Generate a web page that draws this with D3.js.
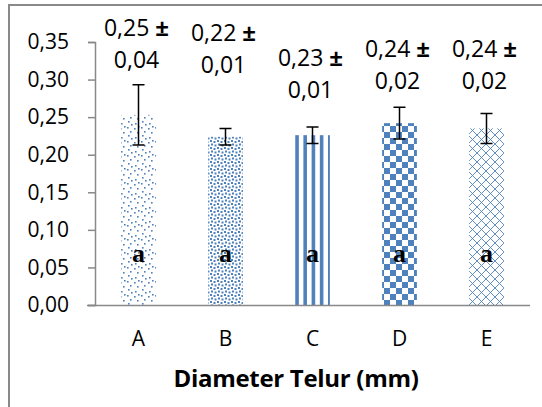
<!DOCTYPE html>
<html>
<head>
<meta charset="utf-8">
<script src="https://cdn.jsdelivr.net/npm/d3@7/dist/d3.min.js"></script>
<style>
  body { margin: 0; background: #fff; }
  svg { display: block; }
</style>
</head>
<body>
<svg id="chart" width="542" height="407"></svg>
<script>
// data
const categories = ['A', 'B', 'C', 'D', 'E'];
const means = [0.253, 0.224, 0.226, 0.242, 0.235];
const errors = [0.040, 0.011, 0.011, 0.021, 0.020];
const labelTop = ['0,25', '0,22', '0,23', '0,24', '0,24'];
const labelBottom = ['0,04', '0,01', '0,01', '0,02', '0,02'];
const letters = ['a', 'a', 'a', 'a', 'a'];
const yTicks = [0, 0.05, 0.10, 0.15, 0.20, 0.25, 0.30, 0.35];

// layout (labels were hand placed in the original)
const labelY = [28, 33, 58, 49, 49];
const blue = '#4f81bd';
const grey = '#898989';
const font = '"Open Sans", "Noto Sans", sans-serif';

const svg = d3.select('#chart');

const x = d3.scaleBand()
    .domain(categories)
    .range([95, 530])
    .paddingInner(0.6)
    .paddingOuter(0.3);

const y = d3.scaleLinear()
    .domain([0, 0.35])
    .range([305, 42]);

const fmt = d3.formatLocale({decimal: ',', thousands: '.', grouping: [3], currency: ['', '']}).format('.2f');

// frame of the chart area (runs off the picture on right/bottom)
svg.append('path')
    .attr('d', 'M9,420 L9,5 L560,5')
    .attr('fill', 'none')
    .attr('stroke', grey)
    .attr('stroke-width', 2);

// fill patterns
const defs = svg.append('defs');

// A: sparse dots
let p = defs.append('pattern').attr('id', 'pA')
    .attr('patternUnits', 'userSpaceOnUse').attr('width', 14).attr('height', 14);
p.append('rect').attr('width', 14).attr('height', 14).attr('fill', '#fff');
[[1,1],[8,2],[4,5],[11,6],[2,9],[9,11],[5,12],[12,0]].forEach(d => {
    p.append('rect').attr('x', d[0]).attr('y', d[1]).attr('width', 1.6).attr('height', 1.6).attr('fill', blue);
});

// B: dense dots
p = defs.append('pattern').attr('id', 'pB')
    .attr('patternUnits', 'userSpaceOnUse').attr('width', 7).attr('height', 7);
p.append('rect').attr('width', 7).attr('height', 7).attr('fill', '#fff');
[[0,0],[3.5,1],[1,3.5],[4.5,4.5]].forEach(d => {
    p.append('rect').attr('x', d[0]).attr('y', d[1]).attr('width', 2).attr('height', 2).attr('fill', blue);
});

// C: vertical stripes
p = defs.append('pattern').attr('id', 'pC')
    .attr('patternUnits', 'userSpaceOnUse').attr('width', 8.2).attr('height', 8);
p.append('rect').attr('width', 8.2).attr('height', 8).attr('fill', '#fff');
p.append('rect').attr('x', 0).attr('width', 3.6).attr('height', 8).attr('fill', blue);

// D: checker board
p = defs.append('pattern').attr('id', 'pD')
    .attr('patternUnits', 'userSpaceOnUse').attr('width', 12).attr('height', 12);
p.append('rect').attr('width', 12).attr('height', 12).attr('fill', '#fff');
p.append('rect').attr('x', 0).attr('y', 0).attr('width', 6).attr('height', 6).attr('fill', blue);
p.append('rect').attr('x', 6).attr('y', 6).attr('width', 6).attr('height', 6).attr('fill', blue);

// E: diamond trellis
p = defs.append('pattern').attr('id', 'pE')
    .attr('patternUnits', 'userSpaceOnUse').attr('width', 9).attr('height', 9);
p.append('rect').attr('width', 9).attr('height', 9).attr('fill', '#fff');
p.append('path').attr('d', 'M0,0 L9,9 M9,0 L0,9')
    .attr('stroke', blue).attr('stroke-width', 0.9).attr('fill', 'none');

const patternIds = ['pA', 'pB', 'pC', 'pD', 'pE'];

// bars
svg.append('g').selectAll('rect')
    .data(categories)
    .join('rect')
    .attr('x', d => x(d))
    .attr('y', (d, i) => y(means[i]))
    .attr('width', x.bandwidth())
    .attr('height', (d, i) => y(0) - y(means[i]))
    .attr('fill', (d, i) => `url(#${patternIds[i]})`);

// y axis
const yAxis = svg.append('g')
    .attr('transform', 'translate(95,0)')
    .call(d3.axisLeft(y).tickValues(yTicks).tickFormat(fmt).tickSize(7).tickPadding(19));
yAxis.select('.domain').attr('stroke', grey).attr('stroke-width', 1.5);
yAxis.selectAll('.tick line').attr('stroke', grey).attr('stroke-width', 1.5);
yAxis.selectAll('.tick text')
    .attr('fill', '#000')
    .style('font-family', font)
    .style('font-size', '21px');

// x axis
const xAxis = svg.append('g')
    .attr('transform', `translate(0,${y(0)})`)
    .call(d3.axisBottom(x).tickSize(0).tickPadding(26));
xAxis.select('.domain').attr('d', 'M87,0.5 H530').attr('stroke', grey).attr('stroke-width', 1.5);
xAxis.selectAll('.tick text')
    .attr('fill', '#000')
    .style('font-family', font)
    .style('font-size', '21px');

// axis title
svg.append('text')
    .attr('x', 296)
    .attr('y', 387)
    .attr('text-anchor', 'middle')
    .style('font-family', font)
    .style('font-weight', 'bold')
    .style('font-size', '24px')
    .style('letter-spacing', '-0.3px')
    .text('Diameter Telur (mm)');

// error bars
const eb = svg.append('g').attr('stroke', '#000').attr('stroke-width', 1.5).attr('fill', 'none');
categories.forEach((c, i) => {
    const cx = x(c) + x.bandwidth() / 2;
    const hi = y(means[i] + errors[i]);
    const lo = y(means[i] - errors[i]);
    eb.append('path')
        .attr('d', `M${cx},${hi} V${lo} M${cx - 6},${hi} H${cx + 6} M${cx - 6},${lo} H${cx + 6}`);
});

// value labels
const labels = svg.append('g')
    .attr('text-anchor', 'middle')
    .style('font-family', font)
    .style('font-size', '23px');
categories.forEach((c, i) => {
    const cx = x(c) + x.bandwidth() / 2 - 2;
    const t = labels.append('text').attr('x', cx).attr('y', labelY[i]).attr('dy', '0.35em');
    t.append('tspan').text(labelTop[i] + ' ');
    t.append('tspan').style('font-weight', 'bold').style('font-size', '24px').text('±');
    labels.append('text').attr('x', cx).attr('y', labelY[i] + 32).attr('dy', '0.35em').text(labelBottom[i]);
});

// significance letters
svg.append('g').selectAll('text')
    .data(categories)
    .join('text')
    .attr('x', d => x(d) + x.bandwidth() / 2)
    .attr('y', y(0.07))
    .attr('dy', '0.35em')
    .attr('text-anchor', 'middle')
    .style('font-family', '"Liberation Serif", serif')
    .style('font-weight', 'bold')
    .style('font-size', '26px')
    .text((d, i) => letters[i]);
</script>
</body>
</html>
